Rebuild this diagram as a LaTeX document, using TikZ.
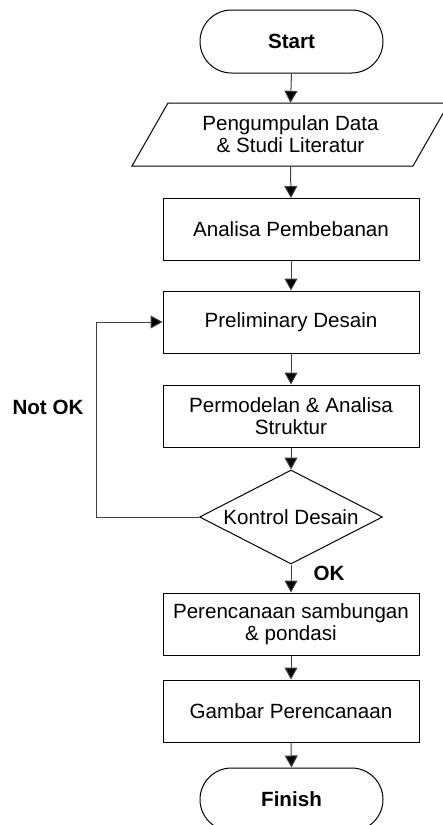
\documentclass[tikz,border=0pt]{standalone}
\usepackage{fontspec}
\setmainfont{Liberation Sans}
\usetikzlibrary{arrows.meta,shapes.geometric}
\begin{document}
\begin{tikzpicture}[x=1pt,y=-1pt,
  font=\fontsize{20.6}{22}\selectfont,
  term/.style={draw, line width=1pt, rounded corners=31.5pt, minimum width=183pt, minimum height=63pt, inner sep=0pt, font=\fontsize{20.6}{22}\selectfont\bfseries},
  procbox/.style={draw, line width=1pt, minimum width=256pt, minimum height=62pt, inner sep=0pt, align=center},
  decbox/.style={draw, diamond, aspect=1.95, line width=1pt, minimum width=183pt, minimum height=94pt, inner sep=0pt},
  flow/.style={draw=black!75, line width=1pt, -{Triangle[length=12pt,width=13pt,fill=black]}},
  lbl/.style={font=\fontsize{20.6}{22}\selectfont\bfseries}]
\useasboundingbox (0,0) rectangle (442,825);
\node[term] (st) at (291.5,41.5) {Start};
\node[minimum width=245pt, minimum height=63pt, inner sep=0pt, align=center] (pg) at (290.5,134.5) {Pengumpulan Data\\ \& Studi Literatur};
\draw[line width=1pt] (168,103) -- (449,103) -- (413,166) -- (132,166) -- cycle;
\node[procbox] (an) at (291,229.5) {Analisa Pembebanan};
\node[procbox] (pre) at (291,322) {Preliminary Desain};
\node[procbox] (pm) at (291,416) {Permodelan \& Analisa\\ Struktur};
\node[decbox] (kd) at (291,517) {Kontrol Desain};
\node[procbox] (pr) at (291,624) {Perencanaan sambungan\\ \& pondasi};
\node[procbox] (gb) at (291,711) {Gambar Perencanaan};
\node[term] (fi) at (291.5,799.5) {Finish};
\draw[flow] (st.south) -- (pg.north);
\draw[flow] (pg.south) -- (an.north);
\draw[flow] (an.south) -- (pre.north);
\draw[flow] (pre.south) -- (pm.north);
\draw[flow] (pm.south) -- (kd.north);
\draw[flow] (kd.south) -- (pr.north);
\draw[flow] (pr.south) -- (gb.north);
\draw[flow] (gb.south) -- (fi.north);
\coordinate (lp) at (96,517);
\draw[flow] (kd.west) -- (lp) |- (pre.west);
\node[lbl] (nok) at (48,407) {Not OK};
\node[lbl] (ok) at (329,573) {OK};
\end{tikzpicture}
\end{document}
